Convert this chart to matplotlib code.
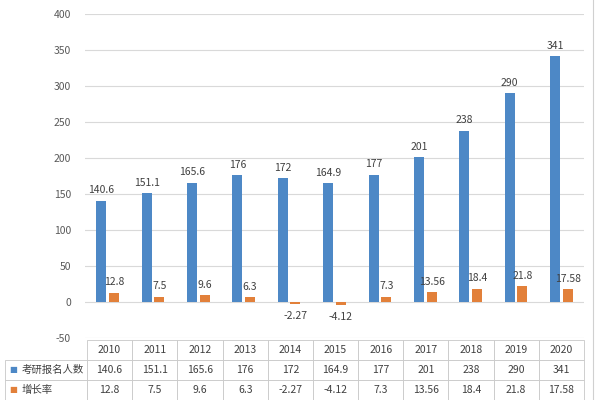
import matplotlib
matplotlib.use('Agg')
import matplotlib.pyplot as plt
import numpy as np

plt.rcParams['font.family'] = ['Noto Sans CJK SC', 'DejaVu Sans']
plt.rcParams['axes.unicode_minus'] = False

years = ['2010', '2011', '2012', '2013', '2014', '2015', '2016', '2017', '2018', '2019', '2020']
applicants = [140.6, 151.1, 165.6, 176, 172, 164.9, 177, 201, 238, 290, 341]
growth = [12.8, 7.5, 9.6, 6.3, -2.27, -4.12, 7.3, 13.56, 18.4, 21.8, 17.58]
applicant_labels = ['140.6', '151.1', '165.6', '176', '172', '164.9', '177', '201', '238', '290', '341']
growth_labels = ['12.8', '7.5', '9.6', '6.3', '-2.27', '-4.12', '7.3', '13.56', '18.4', '21.8', '17.58']
series_names = ['考研报名人数', '增长率']

BLUE = '#4D88C6'
ORANGE = '#E2803A'
TEXT = '#404040'
GRID = '#D9D9D9'

fig = plt.figure(figsize=(6, 4), dpi=100)
ax = fig.add_axes([85 / 600, 0.155, 499 / 600, 0.81])

x = np.arange(len(years))
w = 0.22
ax.bar(x - 0.14, applicants, width=w, color=BLUE, zorder=3)
ax.bar(x + 0.14, growth, width=w, color=ORANGE, zorder=3)

for xi, v, s in zip(x, applicants, applicant_labels):
    ax.annotate(s, (xi - 0.14, v), xytext=(0, 4), textcoords='offset points',
                ha='center', va='bottom', fontsize=7.5, color=TEXT)
for xi, v, s in zip(x, growth, growth_labels):
    if v >= 0:
        ax.annotate(s, (xi + 0.14, v), xytext=(0, 4), textcoords='offset points',
                    ha='center', va='bottom', fontsize=7.5, color=TEXT)
    else:
        ax.annotate(s, (xi + 0.14, v), xytext=(0, -5), textcoords='offset points',
                    ha='center', va='top', fontsize=7.5, color=TEXT)

ax.set_xlim(-0.5, len(years) - 0.5)
ax.set_ylim(-50, 400)
ax.set_yticks(np.arange(-50, 401, 50))
ax.tick_params(axis='y', length=0, labelsize=7.5, labelcolor='#595959', pad=10)
ax.set_xticks([])
ax.grid(axis='y', color=GRID, linewidth=0.8, zorder=0)
for sp in ax.spines.values():
    sp.set_visible(False)

# data table under the plot
cell_text = [[''] + years,
             [series_names[0]] + applicant_labels,
             [series_names[1]] + growth_labels]
first_w = 82 / 579
col_w = [first_w] + [(1 - first_w) / len(years)] * len(years)
tbl = ax.table(cellText=cell_text, colWidths=col_w, cellLoc='center',
               bbox=[(5 - 85) / 499, -0.19, 579 / 499, 0.185])
tbl.auto_set_font_size(False)
tbl.set_fontsize(7.5)
for (r, c), cell in tbl.get_celld().items():
    cell.set_edgecolor('#C8C8C8')
    cell.set_linewidth(0.6)
    cell.get_text().set_color(TEXT)
    if c == 0:
        cell._loc = 'left'
        cell.get_text().set_ha('left')
        cell.PAD = 0.2
    if r == 0 and c == 0:
        cell.visible_edges = ''

# legend keys inside the row labels, placed on the row centres
fig.canvas.draw()
inv = fig.transFigure.inverted()
for row, color in ((1, BLUE), (2, ORANGE)):
    bb = tbl[row, 0].get_window_extent(fig.canvas.get_renderer())
    x0, y0 = inv.transform((bb.x0, bb.y0))
    x1, y1 = inv.transform((bb.x1, bb.y1))
    fig.text(x0 + 4 / 600, (y0 + y1) / 2, '■', color=color, fontsize=6,
             va='center', ha='left', family='DejaVu Sans')

# outer frame line on the right
fig.add_artist(plt.Line2D([593 / 600, 593 / 600], [0, 1], color='#D0D0D0', linewidth=0.8))

plt.savefig('out.png', dpi=100, facecolor='white')
